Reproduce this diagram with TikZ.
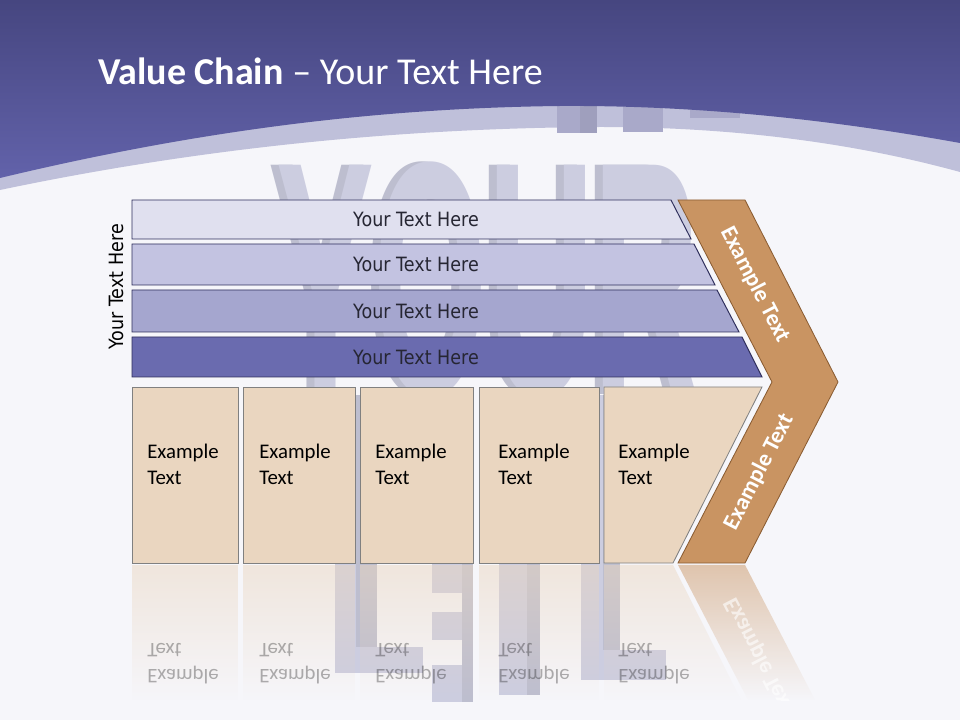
\documentclass[tikz,border=0pt]{standalone}
\usepackage{fontspec}
\setmainfont{Carlito}
\newfontfamily\barfont[FakeStretch=0.89]{DejaVu Sans}
\newfontfamily\markfont{Liberation Sans}
\usetikzlibrary{fadings}
\definecolor{bandtop}{HTML}{464680}
\definecolor{bandbot}{HTML}{6262AA}
\definecolor{stripe}{HTML}{BFC0DA}
\definecolor{paper}{HTML}{F6F6FA}
\definecolor{barA}{HTML}{E0E0EF}
\definecolor{barB}{HTML}{C3C3E1}
\definecolor{barC}{HTML}{A5A6CF}
\definecolor{barD}{HTML}{6A6BAF}
\definecolor{barline}{HTML}{2F2F5C}
\definecolor{bartext}{HTML}{262633}
\definecolor{cellfill}{HTML}{EAD6C0}
\definecolor{cellline}{HTML}{808080}
\definecolor{chev}{HTML}{C99462}
\definecolor{chevline}{HTML}{8A5C32}
\definecolor{wmface}{HTML}{CCCDE0}
\definecolor{wmside}{HTML}{BDBECF}
\definecolor{wmtop}{HTML}{A9A9C9}
\tikzfading[name=mirror, top color=transparent!50, bottom color=transparent!100]
\begin{document}
\begin{tikzpicture}[x=0.025cm, y=-0.025cm,
    bar/.style={draw=barline, line width=0.7pt},
    bartxt/.style={text=bartext, font=\barfont\fontsize{14}{16}\selectfont, inner sep=0pt},
    cell/.style={draw=cellline, fill=cellfill, line width=0.6pt},
    celltxt/.style={anchor=north west, align=left, inner sep=0pt, font=\fontsize{14.8}{18.2}\selectfont},
    mirrortxt/.style={celltxt, yscale=-1, opacity=.3},
    chevtxt/.style={text=white, font=\bfseries\fontsize{16.5}{18}\selectfont, inner sep=0pt},
    wmark/.style={font=\markfont\bfseries\fontsize{237}{237}\selectfont, xscale=0.44, inner sep=0pt, anchor=base}]
  \useasboundingbox (0,0) rectangle (960,720);
  \fill[paper] (0,0) rectangle (960,720);
  \fill[stripe] (0,0) -- (960,0) -- (960,172)
    .. controls (880,150) and (760,127) .. (600,127)
    .. controls (400,128) and (200,148) .. (0,190) -- cycle;

  \node[wmark, text=wmside] (markshade) at (480,395) {YOUR};
  \node[wmark, text=wmface] (mark) at (488,395) {YOUR};
  \fill[wmtop] (557,95) rectangle (580,133);
  \fill[wmtop!94!black] (580,95) rectangle (597,133);
  \fill[wmtop] (623,95) rectangle (663,132);
  \fill[wmtop] (690,95) rectangle (740,118);
  \fill[wmface] (335,395) rectangle (356,673);
  \fill[wmside] (356,395) rectangle (377,650);
  \fill[wmface] (335,647) rectangle (423,673);
  \fill[wmface] (432,563) rectangle (462,593);
  \fill[wmface] (432,612) rectangle (462,640);
  \fill[wmface] (432,665) rectangle (462,702);
  \fill[wmside] (462,395) rectangle (473,702);
  \fill[wmface] (499,395) rectangle (527,695);
  \fill[wmside] (527,395) rectangle (540,695);
  \fill[wmface] (581,395) rectangle (603,680);
  \fill[wmside] (603,395) rectangle (620,655);
  \fill[wmface] (581,650) rectangle (666,680);

  \shade[top color=bandtop, bottom color=bandbot] (0,0) -- (960,0) -- (960,143)
    .. controls (860,125) and (720,105) .. (560,106)
    .. controls (380,108) and (200,130) .. (0,178) -- cycle;
  \node[anchor=base west, inner sep=0pt, text=white, font=\fontsize{27}{30}\selectfont] (title) at (98,85)
    {\textbf{Value Chain} -- Your Text Here};

  \node[bartxt, text=black, rotate=90] (side) at (116,287) {Your Text Here};
  \draw[bar, fill=barA] (132,200) -- (671,200) -- (691,239) -- (132,239) -- cycle;
  \draw[bar, fill=barB] (132,244) -- (694,244) -- (715,285) -- (132,285) -- cycle;
  \draw[bar, fill=barC] (132,290) -- (717,290) -- (739,332) -- (132,332) -- cycle;
  \draw[bar, fill=barD] (132,337) -- (742,337) -- (762,377) -- (132,377) -- cycle;
  \node[bartxt] (bar1) at (416,219.5) {Your Text Here};
  \node[bartxt] (bar2) at (416,264.5) {Your Text Here};
  \node[bartxt] (bar3) at (416,311) {Your Text Here};
  \node[bartxt] (bar4) at (416,357) {Your Text Here};

  \fill[cellfill, path fading=mirror] (132,565) rectangle (238,700);
  \fill[cellfill, path fading=mirror] (243,565) rectangle (355,700);
  \fill[cellfill, path fading=mirror] (360,565) rectangle (473,700);
  \fill[cellfill, path fading=mirror] (479,565) rectangle (599,700);
  \fill[cellfill, path fading=mirror] (604,565) -- (673,565) -- (741,700) -- (604,700) -- cycle;
  \fill[chev, path fading=mirror] (678,565) -- (745,565) -- (815,700) -- (748,700) -- cycle;
  \node[mirrortxt] (refl1) at (147,684) {Example\\Text};
  \node[mirrortxt] (refl2) at (259,684) {Example\\Text};
  \node[mirrortxt] (refl3) at (375,684) {Example\\Text};
  \node[mirrortxt] (refl4) at (498,684) {Example\\Text};
  \node[mirrortxt] (refl5) at (618,684) {Example\\Text};
  \begin{scope}
    \clip (678,565) -- (745,565) -- (815,700) -- (748,700) -- cycle;
    \node[chevtxt, rotate=-62.7, yscale=-1, opacity=.6] (chevrefl) at (759,656) {Example Text};
  \end{scope}

  \draw[cell] (132,387) rectangle (238,563);
  \draw[cell] (243,387) rectangle (355,563);
  \draw[cell] (360,387) rectangle (473,563);
  \draw[cell] (479,387) rectangle (599,563);
  \draw[cell] (604,387) -- (762,387) -- (673,563) -- (604,563) -- cycle;
  \node[celltxt] (cell1) at (147,444) {Example\\Text};
  \node[celltxt] (cell2) at (259,444) {Example\\Text};
  \node[celltxt] (cell3) at (375,444) {Example\\Text};
  \node[celltxt] (cell4) at (498,444) {Example\\Text};
  \node[celltxt] (cell5) at (618,444) {Example\\Text};

  \draw[chevline, fill=chev, line width=0.6pt] (678,200) -- (745,200) -- (838,382) -- (745,563) -- (678,563) -- (772,382) -- cycle;
  \node[chevtxt, rotate=-62.7] (chevup) at (755,285) {Example Text};
  \node[chevtxt, rotate=62.7] (chevdown) at (759,472) {Example Text};
\end{tikzpicture}
\end{document}
